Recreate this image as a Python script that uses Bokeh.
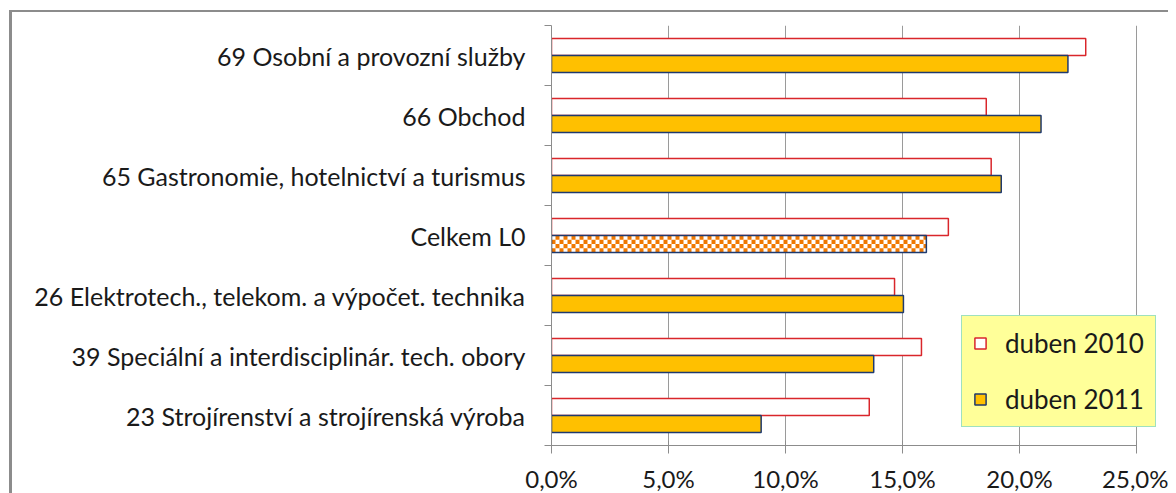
import math
from bokeh.plotting import figure
from bokeh.models import ColumnDataSource, FixedTicker, Legend, LegendItem, Range1d
from bokeh.embed import file_html
from bokeh.resources import INLINE

# Data (top to bottom as displayed)
categories = [
    "69 Osobní a provozní služby",
    "66 Obchod",
    "65 Gastronomie, hotelnictví a turismus",
    "Celkem L0",
    "26 Elektrotech., telekom. a výpočet. technika",
    "39 Speciální a interdisciplinár. tech. obory",
    "23 Strojírenství a strojírenská výroba",
]
duben_2010 = [22.83, 18.58, 18.79, 16.96, 14.66, 15.81, 13.58]
duben_2011 = [22.07, 20.92, 19.22, 16.02, 15.04, 13.77, 8.96]
series_names = ["duben 2010", "duben 2011"]
total_category = "Celkem L0"
x_ticks = [0, 5, 10, 15, 20, 25]
x_tick_labels = ["0,0%", "5,0%", "10,0%", "15,0%", "20,0%", "25,0%"]

n = len(categories)
centers = [n - 1 - i + 0.5 for i in range(n)]
bar_h = 0.283
off = bar_h / 2

src10 = ColumnDataSource(dict(y=[c + off for c in centers], v=duben_2010))
idx_reg = [i for i, c in enumerate(categories) if c != total_category]
idx_tot = [i for i, c in enumerate(categories) if c == total_category]
src11 = ColumnDataSource(dict(y=[centers[i] - off for i in idx_reg],
                              v=[duben_2011[i] for i in idx_reg]))
src11t = ColumnDataSource(dict(y=[centers[i] - off for i in idx_tot],
                               v=[duben_2011[i] for i in idx_tot]))

FONT = "Lato"

AXIS_W = 585          # pixels from 0% to 25%
FRAME_W = 609         # frame extends a bit past 25% so the legend fits
x_max = x_ticks[-1]
x_end = x_max * FRAME_W / AXIS_W

p = figure(frame_width=FRAME_W, frame_height=420,
           min_border_left=539, min_border_right=8,
           min_border_top=13, min_border_bottom=46,
           x_range=Range1d(0, x_end), y_range=Range1d(0, n),
           output_backend="svg", toolbar_location=None)
p.styles = {"border-left": "3px solid #8c8c8c", "border-top": "2px solid #8c8c8c",
            "margin-left": "9px", "margin-top": "10px"}
p.outline_line_color = None
p.background_fill_color = "white"

r10 = p.hbar(y="y", left=0, right="v", height=bar_h, source=src10,
             fill_color="white", line_color="#d9262b", line_width=1.5)
r11 = p.hbar(y="y", left=0, right="v", height=bar_h, source=src11,
             fill_color="#ffc000", line_color="#1f3a6e", line_width=1.5)

# total bar: white base, orange checkerboard fill, navy outline
p.hbar(y="y", left=0, right="v", height=bar_h, source=src11t,
       fill_color="white", line_color=None)
cell_w = 4 * x_end / FRAME_W
n_rows = 4
cell_h = bar_h / n_rows
cl, cr, cb, ct = [], [], [], []
for k in idx_tot:
    val = duben_2011[k]
    y0 = centers[k] - off - bar_h / 2
    n_cols = int(math.ceil(val / cell_w))
    for j in range(n_rows):
        for i in range(n_cols):
            if (i + j) % 2 == 0:
                cl.append(i * cell_w)
                cr.append(min((i + 1) * cell_w, val))
                cb.append(y0 + j * cell_h)
                ct.append(y0 + (j + 1) * cell_h)
p.quad(left=cl, right=cr, bottom=cb, top=ct, fill_color="#f07800",
       line_color=None)
p.hbar(y="y", left=0, right="v", height=bar_h, source=src11t,
       fill_color=None, line_color="#1f3a6e", line_width=1.5)

# x axis
xa = p.xaxis[0]
xa.ticker = FixedTicker(ticks=x_ticks)
xa.bounds = (0, x_max)
xa.major_label_overrides = {t: l for t, l in zip(x_ticks, x_tick_labels)}
xa.axis_line_color = "#8c8c8c"
xa.major_tick_line_color = "#8c8c8c"
xa.major_tick_in = 5
xa.major_tick_out = 8
xa.minor_tick_line_color = None
xa.major_label_text_font = FONT
xa.major_label_text_font_size = "24px"
xa.major_label_text_color = "#1a1a1a"
xa.major_label_standoff = 10

# y axis
ya = p.yaxis[0]
ya.ticker = FixedTicker(ticks=centers, minor_ticks=list(range(n + 1)))
ya.major_label_overrides = {c: cat for c, cat in zip(centers, categories)}
ya.axis_line_color = "#8c8c8c"
ya.major_tick_line_color = None
ya.major_tick_in = 0
ya.major_tick_out = 0
ya.minor_tick_line_color = "#8c8c8c"
ya.minor_tick_in = 0
ya.minor_tick_out = 7
ya.major_label_text_font = FONT
ya.major_label_text_font_size = "25px"
ya.major_label_text_color = "#1a1a1a"
ya.major_label_standoff = 19

p.xgrid.ticker = FixedTicker(ticks=x_ticks)
p.xgrid.bounds = (0, x_max)
p.xgrid.grid_line_color = "#9a9a9a"
p.ygrid.grid_line_color = None

legend = Legend(items=[LegendItem(label=series_names[0], renderers=[r10]),
                       LegendItem(label=series_names[1], renderers=[r11])],
                location=(410, 18))
legend.background_fill_color = "#ffff99"
legend.background_fill_alpha = 1.0
legend.border_line_color = "#3fc4e4"
legend.border_line_width = 1.5
legend.label_text_font = FONT
legend.label_text_font_size = "26px"
legend.label_text_color = "#1a1a1a"
legend.glyph_width = 14
legend.glyph_height = 14
legend.label_height = 22
legend.label_standoff = 18
legend.spacing = 24
legend.padding = 11
legend.margin = 0
p.add_layout(legend, "center")

open("out.html", "w").write(file_html(p, INLINE))
